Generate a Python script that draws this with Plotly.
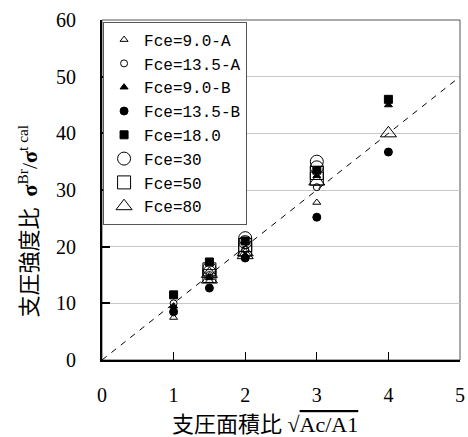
import plotly.graph_objects as go

# ---- data ----
x_90A = [1, 1.5, 2, 3]
y_90A = [7.5, 14.0, 18.5, 27.8]

x_135A = [1, 1.5, 2, 3]
y_135A = [10.0, 15.0, 19.5, 30.5]

x_90B = [1, 1.5, 2, 3, 4]
y_90B = [9.5, 14.5, 18.3, 32.5, 45.0]

x_135B = [1, 1.5, 2, 3, 4]
y_135B = [8.5, 12.7, 18.0, 25.2, 36.7]

x_180 = [1, 1.5, 2, 3, 4]
y_180 = [11.5, 17.3, 21.0, 33.5, 46.0]

x_30 = [1.5, 1.5, 2, 2, 3, 3]
y_30 = [15.5, 16.2, 21.5, 20.8, 35.0, 34.0]

x_50 = [1.5, 1.5, 2, 2, 3, 3]
y_50 = [14.8, 16.0, 19.5, 20.3, 33.0, 32.0]

x_80 = [1.5, 1.5, 2, 2, 3, 4]
y_80 = [14.2, 15.2, 18.5, 19.0, 31.5, 40.0]

ref_x = [0, 5]
ref_y = [0, 50]

x_ticks = [0, 1, 2, 3, 4, 5]
y_ticks = [0, 10, 20, 30, 40, 50, 60]

series = [
    ("Fce=9.0-A", x_90A, y_90A, "triangle-up-open", 7),
    ("Fce=13.5-A", x_135A, y_135A, "circle-open", 7),
    ("Fce=9.0-B", x_90B, y_90B, "triangle-up", 7),
    ("Fce=13.5-B", x_135B, y_135B, "circle", 8),
    ("Fce=18.0", x_180, y_180, "square", 8),
    ("Fce=30", x_30, y_30, "circle-open", 13),
    ("Fce=50", x_50, y_50, "square-open", 13),
    ("Fce=80", x_80, y_80, "triangle-up-open", 14),
]

fig = go.Figure()

fig.add_trace(go.Scatter(
    x=ref_x, y=ref_y, mode="lines", showlegend=False,
    line=dict(color="black", width=1, dash="6px,6px"), hoverinfo="skip"))

for name, xs, ys, sym, size in series:
    fig.add_trace(go.Scatter(
        x=xs, y=ys, mode="markers", name=name,
        marker=dict(symbol=sym, size=size, color="black",
                    line=dict(color="black", width=1))))

mono = "Liberation Mono"
serif = "Liberation Serif"

fig.update_layout(
    width=468, height=437,
    margin=dict(l=102, r=8, t=20, b=77, autoexpand=False),
    paper_bgcolor="white", plot_bgcolor="white",
    showlegend=True,
    legend=dict(x=0.003, y=0.995, xanchor="left", yanchor="top",
                bgcolor="white", bordercolor="#555555", borderwidth=1,
                font=dict(family=mono, size=16, color="black"),
                itemwidth=30, tracegroupgap=0),
    xaxis=dict(range=[0, 5], tickvals=x_ticks, ticktext=[str(v) for v in x_ticks],
               showgrid=False, zeroline=False, automargin=False,
               showline=True, linecolor="black", linewidth=2,
               ticks="inside", ticklen=8, tickwidth=1, tickcolor="black",
               ticklabelstandoff=16,
               tickfont=dict(family=serif, size=20, color="black")),
    yaxis=dict(range=[0, 60], tickvals=y_ticks, ticktext=[str(v) for v in y_ticks],
               showgrid=True, gridcolor="#c8c8c8", gridwidth=1, zeroline=False,
               automargin=False,
               showline=True, linecolor="black", linewidth=2,
               ticks="inside", ticklen=8, tickwidth=1.5, tickcolor="black",
               ticklabelstandoff=20,
               tickfont=dict(family=serif, size=20, color="black")),
    shapes=[dict(type="rect", xref="paper", yref="paper", x0=0, x1=1, y0=0, y1=1,
                 line=dict(color="#555555", width=1), layer="below")],
    annotations=[
        dict(xref="paper", yref="paper", x=0.455, y=-0.13, xanchor="center", yanchor="top",
             showarrow=False,
             text="<span style='font-family:Noto Sans CJK JP'>支圧面積比</span> "
                  "√<span style='text-decoration:overline'>Ac/A1</span>",
             font=dict(family=serif, size=22, color="black")),
        dict(xref="paper", yref="paper", x=-0.21, y=0.41, xanchor="center", yanchor="middle",
             showarrow=False, textangle=-90,
             text="<span style='font-family:Noto Sans CJK JP'>支圧強度比</span>  "
                  "<b>σ</b><sup>Br</sup>/<b>σ</b><sup>t cal</sup>",
             font=dict(family=serif, size=22, color="black")),
    ],
)

fig.write_html("out.html", config={"displayModeBar": False},
               post_script="document.body.style.margin='0';document.body.style.padding='0';")
